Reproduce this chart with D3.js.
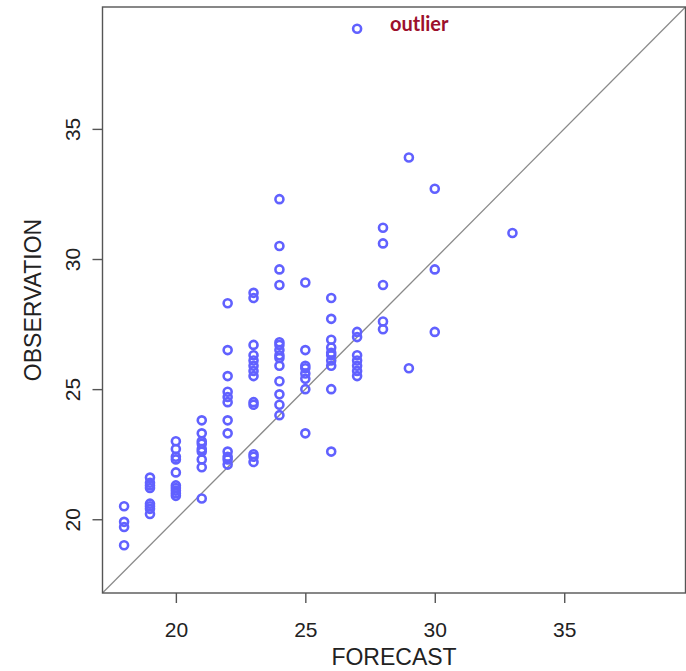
<!DOCTYPE html>
<html>
<head>
<meta charset="utf-8">
<script src="https://cdn.jsdelivr.net/npm/d3@7"></script>
<style>
  html, body { margin: 0; padding: 0; background: #fff; }
  svg { display: block; }
  .tick text { font-family: "Liberation Sans", Arial, sans-serif; fill: #222; }
</style>
</head>
<body>
<svg id="chart" width="686" height="671"></svg>
<script>
// Forecast / observation pairs, grouped by forecast value
const forecast = [
  18, 18, 18, 18,
  19, 19, 19, 19, 19, 19, 19, 19,
  20, 20, 20, 20, 20, 20, 20, 20, 20, 20,
  21, 21, 21, 21, 21, 21, 21, 21, 21,
  22, 22, 22, 22, 22, 22, 22, 22, 22, 22, 22, 22,
  23, 23, 23, 23, 23, 23, 23, 23, 23, 23, 23, 23, 23,
  24, 24, 24, 24, 24, 24, 24, 24, 24, 24, 24, 24, 24, 24,
  25, 25, 25, 25, 25, 25, 25, 25,
  26, 26, 26, 26, 26, 26, 26, 26, 26, 26,
  27, 27, 27, 27, 27, 27, 27, 27,
  28, 28, 28, 28, 28,
  29, 29,
  30, 30, 30,
  33
];
const observation = [
  20.5, 19.9, 19.7, 19.0,
  21.6, 21.4, 21.3, 21.2, 20.6, 20.5, 20.4, 20.2,
  23.0, 22.7, 22.4, 22.3, 21.8, 21.3, 21.2, 21.1, 21.0, 20.9,
  23.8, 23.3, 23.0, 22.9, 22.7, 22.6, 22.3, 22.0, 20.8,
  28.3, 26.5, 25.5, 24.9, 24.7, 24.5, 23.8, 23.3, 22.6, 22.4, 22.3, 22.1,
  28.7, 28.5, 26.7, 26.3, 26.1, 25.9, 25.7, 25.5, 24.5, 24.4, 22.5, 22.4, 22.2,
  32.3, 30.5, 29.6, 29.0, 26.8, 26.7, 26.5, 26.3, 26.2, 25.9, 25.3, 24.8, 24.4, 24.0,
  29.1, 26.5, 25.9, 25.8, 25.6, 25.4, 25.0, 23.3,
  28.5, 27.7, 26.9, 26.6, 26.4, 26.3, 26.1, 25.9, 25.0, 22.6,
  38.85, 27.2, 27.0, 26.3, 26.1, 25.9, 25.7, 25.5,
  31.2, 30.6, 29.0, 27.6, 27.3,
  33.9, 25.8,
  32.7, 29.6, 27.2,
  31.0
];
const xTicks = [20, 25, 30, 35];
const yTicks = [20, 25, 30, 35];
const annotation = { forecast: 27, observation: 38.85, text: "outlier" };

const svg = d3.select("#chart");
const plotLeft = 102.5, plotRight = 685.5, plotTop = 7, plotBottom = 593;

// Shared limits over both variables, padded by 4% like base R plots
const all = forecast.concat(observation);
const [lo, hi] = d3.extent(all);
const pad = (hi - lo) * 0.04;
const lim = [lo - pad, hi + pad];

const x = d3.scaleLinear().domain(lim).range([plotLeft, plotRight]);
const y = d3.scaleLinear().domain(lim).range([plotBottom, plotTop]);

const plot = svg.append("g");
plot.append("clipPath").attr("id", "clip")
  .append("rect").attr("x", plotLeft).attr("y", plotTop)
  .attr("width", plotRight - plotLeft).attr("height", plotBottom - plotTop);

// 1:1 reference line
plot.append("line")
  .attr("clip-path", "url(#clip)")
  .attr("x1", x(lim[0])).attr("y1", y(lim[0]))
  .attr("x2", x(lim[1])).attr("y2", y(lim[1]))
  .attr("stroke", "#8a8a8a").attr("stroke-width", 1.3);

// Points
plot.selectAll("circle.pt")
  .data(forecast.map((f, i) => [f, observation[i]]))
  .join("circle")
  .attr("class", "pt")
  .attr("cx", d => x(d[0]))
  .attr("cy", d => y(d[1]))
  .attr("r", 4)
  .attr("fill", "none")
  .attr("stroke", "#6161ff")
  .attr("stroke-width", 2.6);

// Frame
plot.append("rect")
  .attr("x", plotLeft).attr("y", plotTop)
  .attr("width", plotRight - plotLeft).attr("height", plotBottom - plotTop)
  .attr("fill", "none").attr("stroke", "#555").attr("stroke-width", 1.4);

// Axes
const xAxis = svg.append("g")
  .attr("transform", `translate(0,${plotBottom})`)
  .call(d3.axisBottom(x).tickValues(xTicks).tickSize(10).tickSizeOuter(0).tickPadding(19));
const yAxis = svg.append("g")
  .attr("transform", `translate(${plotLeft},0)`)
  .call(d3.axisLeft(y).tickValues(yTicks).tickSize(10).tickSizeOuter(0));

[xAxis, yAxis].forEach(g => {
  g.select(".domain").remove();
  g.selectAll(".tick line").attr("stroke", "#555").attr("stroke-width", 1.4);
  g.selectAll(".tick text").attr("font-size", 21);
});
xAxis.selectAll(".tick text").attr("dy", "0.71em");
yAxis.selectAll(".tick text")
  .attr("text-anchor", "middle")
  .attr("x", null).attr("dy", null)
  .attr("transform", "translate(-23,0) rotate(-90)")
  .attr("y", 0);

// Axis titles
svg.append("text")
  .attr("x", (plotLeft + plotRight) / 2).attr("y", 665)
  .attr("text-anchor", "middle")
  .attr("font-family", "Liberation Sans, Arial, sans-serif")
  .attr("font-size", 23).attr("fill", "#222")
  .text("FORECAST");
svg.append("text")
  .attr("transform", `translate(41,${(plotTop + plotBottom) / 2}) rotate(-90)`)
  .attr("text-anchor", "middle")
  .attr("font-family", "Liberation Sans, Arial, sans-serif")
  .attr("font-size", 23).attr("fill", "#222")
  .text("OBSERVATION");

// Annotation next to the highest observation
svg.append("text")
  .attr("x", x(annotation.forecast) + 33)
  .attr("y", y(annotation.observation) + 2)
  .attr("font-family", "Lato, 'Open Sans', sans-serif")
  .attr("font-weight", "bold")
  .attr("font-size", 20).attr("fill", "#9c102c")
  .text(annotation.text);
</script>
</body>
</html>
